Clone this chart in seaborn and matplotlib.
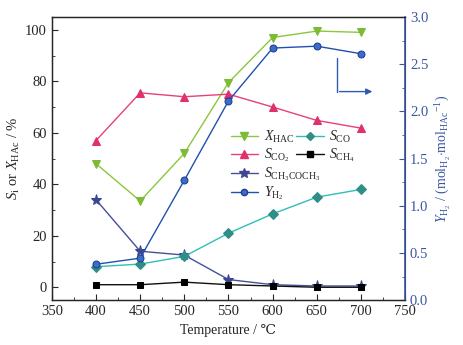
import numpy as np
import pandas as pd
import matplotlib.pyplot as plt
import seaborn as sns
from matplotlib.lines import Line2D

sns.set_style('ticks')
plt.rcParams['font.family'] = ['Liberation Serif', 'DejaVu Serif']
plt.rcParams['mathtext.fontset'] = 'custom'
plt.rcParams['mathtext.rm'] = 'Liberation Serif'
plt.rcParams['mathtext.it'] = 'Liberation Serif:italic'
plt.rcParams['xtick.direction'] = 'in'
plt.rcParams['ytick.direction'] = 'in'

temps = [400, 450, 500, 550, 600, 650, 700]
x_hac = [48, 33.5, 52, 79.5, 97, 99.5, 99]
s_co2 = [57, 75.5, 74, 75, 70, 64.8, 61.8]
s_acetone = [34, 14, 12.5, 3, 1, 0.5, 0.5]
s_co = [8, 9, 12, 21, 28.5, 35, 38]
s_ch4 = [1, 1, 2, 1, 0.5, 0, 0]
y_h2 = [0.38, 0.445, 1.27, 2.11, 2.67, 2.69, 2.61]

blue_axis = '#3a56a0'

fig = plt.figure(figsize=(4.63, 3.45), dpi=100)
ax = fig.add_axes([0.112, 0.130, 0.763, 0.821])
ax2 = ax.twinx()

left_series = [
    ('xhac', x_hac, 'v', '#8cc63f', '#7dbb36', r'$X_{\mathrm{HAC}}$', 6),
    ('co2', s_co2, '^', '#e8407a', '#e0306f', r'$S_{\mathrm{CO_2}}$', 6),
    ('acetone', s_acetone, '*', '#45509a', '#3d468f', r'$S_{\mathrm{CH_3COCH_3}}$', 8),
    ('co', s_co, 'D', '#30bfb5', '#2f8f88', r'$S_{\mathrm{CO}}$', 4.8),
    ('ch4', s_ch4, 's', '#111111', '#000000', r'$S_{\mathrm{CH_4}}$', 5),
]
handles = {}
labels = {}
for key, vals, mk, lc, mc, lab, ms in left_series:
    sns.lineplot(x=temps, y=vals, ax=ax, color=lc, marker=mk, markersize=ms,
                 markerfacecolor=mc, markeredgecolor=mc, linewidth=1.0)
    handles[key] = Line2D([], [], color=lc, marker=mk, markersize=ms - 0.5,
                          markerfacecolor=mc, markeredgecolor=mc, linewidth=1.0)
    labels[key] = lab

sns.lineplot(x=temps, y=y_h2, ax=ax2, color='#2250b0', marker='o', markersize=5,
             markerfacecolor='#3a6cc8', markeredgecolor='#1d3f90', linewidth=1.0)
handles['h2'] = Line2D([], [], color='#2250b0', marker='o', markersize=4.5,
                       markerfacecolor='#3a6cc8', markeredgecolor='#1d3f90', linewidth=1.0)
labels['h2'] = r'$Y_{\mathrm{H_2}}$'

ax.set_xlim(350, 750)
ax.set_ylim(-5, 105)
ax.set_xticks(np.arange(350, 751, 50))
ax.set_xticks(np.arange(375, 750, 50), minor=True)
ax.set_yticks(np.arange(0, 101, 20))
ax.set_yticks(np.arange(10, 100, 20), minor=True)
ax2.set_ylim(0, 3.0)
ax2.set_yticks(np.arange(0, 3.01, 0.5))
ax2.set_yticks(np.arange(0.25, 3.0, 0.5), minor=True)

ax.tick_params(axis='both', which='major', length=4, labelsize=10.5, top=False, right=False)
ax.tick_params(axis='both', which='minor', length=2, top=False, right=False)
ax2.tick_params(axis='y', which='major', length=4, labelsize=10.5, colors=blue_axis)
ax2.tick_params(axis='y', which='minor', length=2, colors=blue_axis)
ax2.spines['right'].set_color(blue_axis)
for s in ['left', 'top', 'bottom']:
    ax.spines[s].set_linewidth(1.0)
ax2.spines['right'].set_linewidth(1.2)

ax.set_xlabel('Temperature / ℃', fontsize=10)
ax.set_ylabel(r'$S_{\mathrm{i}}$ or $X_{\mathrm{HAc}}$ / %', fontsize=10.5, labelpad=2)
ax2.set_ylabel(r'$Y_{\mathrm{H_2}}$ / (mol$_{\mathrm{H_2}}$$\cdot$mol$_{\mathrm{HAc}}$$^{-1}$)',
               fontsize=10, color=blue_axis, labelpad=4)

# bent arrow pointing to the right-hand axis
ax.plot([673, 673], [89, 76], color='#2a5cb0', lw=1.0)
ax.annotate('', xy=(716, 76), xytext=(672.5, 76),
            arrowprops=dict(arrowstyle='-|>', color='#2a5cb0', lw=1.0, mutation_scale=9))

leg_kw = dict(loc='upper left', frameon=False, fontsize=10, handlelength=2.0,
              labelspacing=0.12, handletextpad=0.4, borderaxespad=0)
col1 = ['xhac', 'co2', 'acetone', 'h2']
col2 = ['co', 'ch4']
leg1 = ax.legend([handles[k] for k in col1], [labels[k] for k in col1],
                 bbox_to_anchor=(0.49, 0.625), **leg_kw)
ax.add_artist(leg1)
ax.legend([handles[k] for k in col2], [labels[k] for k in col2],
          bbox_to_anchor=(0.675, 0.625), **leg_kw)

fig.savefig('out.png', dpi=100)
